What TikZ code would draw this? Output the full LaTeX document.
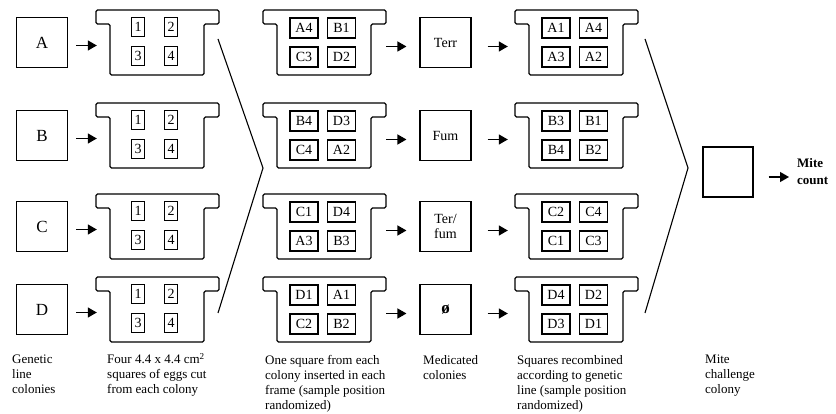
\documentclass[tikz,border=0pt]{standalone}
\usepackage{fontspec}
\setmainfont{Liberation Serif}
\usetikzlibrary{arrows.meta,calc}

\tikzset{
  colbox/.style={draw, line width=1.1pt, minimum width=51pt, minimum height=50pt, inner sep=0pt, align=center},
  letterfont/.style={font=\fontsize{17}{18}\selectfont},
  treatfont/.style={font=\fontsize{14}{15}\selectfont},
  frameline/.style={line width=1.3pt, rounded corners=1.5pt},
  frnode/.style={minimum width=123pt, minimum height=65pt, inner sep=0pt},
  sqone/.style={draw, line width=1.1pt, minimum width=13pt, minimum height=19pt, inner sep=0pt, font=\fontsize{14}{15}\selectfont},
  sqtwo/.style={draw, line width=1.1pt, minimum width=28pt, minimum height=20pt, inner sep=0pt, font=\fontsize{14}{15}\selectfont},
  arr/.style={-{Triangle[length=9pt,width=10pt]}, line width=1.3pt},
  chev/.style={line width=1.1pt},
  caption/.style={anchor=north west, inner sep=0pt, align=left, font=\fontsize{13}{15}\selectfont},
}

\newcommand\frameoutline[3]{%
  \draw[frameline] ({#2+14},{#3+65}) -- ({#2+14},{#3+14}) -- ({#2},{#3+14}) -- ({#2},{#3}) -- ({#2+123},{#3}) -- ({#2+123},{#3+14}) -- ({#2+108},{#3+14}) -- ({#2+108},{#3+65}) -- cycle;
  \node[frnode] (#1) at ({#2+61.5},{#3+32.5}) {};
}
\newcommand\fone[3]{%
  \frameoutline{#1}{#2}{#3}
  \node[sqone] (#1-1) at ({#2+42},{#3+17}) {1};
  \node[sqone] (#1-2) at ({#2+75},{#3+17}) {2};
  \node[sqone] (#1-3) at ({#2+42},{#3+46}) {3};
  \node[sqone] (#1-4) at ({#2+75},{#3+46}) {4};
}
\newcommand\ftwo[7]{%
  \frameoutline{#1}{#2}{#3}
  \node[sqtwo] (#1-1) at ({#2+41},{#3+18}) {#4};
  \node[sqtwo] (#1-2) at ({#2+78.5},{#3+18}) {#5};
  \node[sqtwo] (#1-3) at ({#2+41},{#3+47}) {#6};
  \node[sqtwo] (#1-4) at ({#2+78.5},{#3+47}) {#7};
}

\begin{document}
\begin{tikzpicture}[x=1pt, y=-1pt]
\useasboundingbox (0,0) rectangle (836,414);

% genetic line colonies
\node[colbox, letterfont] (bA) at (42,42.5) {A};
\node[colbox, letterfont] (bB) at (42,135.5) {B};
\node[colbox, letterfont] (bC) at (42,226.5) {C};
\node[colbox, letterfont] (bD) at (42,309.5) {D};

% frames column 1
\fone{fA}{96}{10}
\fone{fB}{96}{103}
\fone{fC}{96}{194}
\fone{fD}{96}{277}

% frames column 2
\ftwo{gA}{263}{10}{A4}{B1}{C3}{D2}
\ftwo{gB}{263}{103}{B4}{D3}{C4}{A2}
\ftwo{gC}{263}{194}{C1}{D4}{A3}{B3}
\ftwo{gD}{263}{277}{D1}{A1}{C2}{B2}

% treatments
\node[colbox, treatfont] (tA) at (445.5,42.5) {Terr};
\node[colbox, treatfont] (tB) at (445.5,135.5) {Fum};
\node[colbox, treatfont] (tC) at (445.5,226.5) {Ter/\\fum};
\node[colbox, font=\fontsize{17}{18}\selectfont\bfseries] (tD) at (445.5,309.5) {ø};

% frames column 3
\ftwo{hA}{515}{10}{A1}{A4}{A3}{A2}
\ftwo{hB}{515}{103}{B3}{B1}{B4}{B2}
\ftwo{hC}{515}{194}{C2}{C4}{C1}{C3}
\ftwo{hD}{515}{277}{D4}{D2}{D3}{D1}

% arrows
\foreach \r in {A,B,C,D}{
  \draw[arr] ([xshift=8pt,yshift=-3pt]b\r.east) -- ([xshift=1pt,yshift=-3pt]f\r.west);
  \draw[arr] ([yshift=-4pt]g\r.east) -- ([xshift=-13pt,yshift=-4pt]t\r.west);
  \draw[arr] ([xshift=16pt,yshift=-4pt]t\r.east) -- ([xshift=-7pt,yshift=-4pt]h\r.west);
}

% chevrons
\coordinate (c1a) at (218,39);
\coordinate (c1b) at (263,168);
\coordinate (c1c) at (218,313);
\draw[chev] (c1a) -- (c1b) -- (c1c);
\coordinate (c2a) at (645,39);
\coordinate (c2b) at (688,168);
\coordinate (c2c) at (645,313);
\draw[chev] (c2a) -- (c2b) -- (c2c);

% mite challenge colony
\node[colbox, minimum width=50pt] (mc) at (728,172) {};
\node[anchor=west, inner sep=0pt, align=left, font=\fontsize{13}{17}\selectfont\bfseries] (count) at (797,172) {Mite\\count};
\draw[arr] ([xshift=15pt,yshift=-5pt]mc.east) -- ([xshift=-8pt,yshift=-5pt]count.west);

% captions
\node[caption] (l1) at (12,355) {Genetic\\line\\colonies};
\node[caption] (l2) at (107,353) {Four 4.4 x 4.4 cm\textsuperscript{2}\\squares of eggs cut\\from each colony};
\node[caption] (l3) at (265,355) {One square from each\\colony inserted in each\\frame (sample position\\randomized)};
\node[caption] (l4) at (423,355) {Medicated\\colonies};
\node[caption] (l5) at (517,355) {Squares recombined\\according to genetic\\line (sample position\\randomized)};
\node[caption] (l6) at (705,355) {Mite\\challenge\\colony};
\end{tikzpicture}
\end{document}
